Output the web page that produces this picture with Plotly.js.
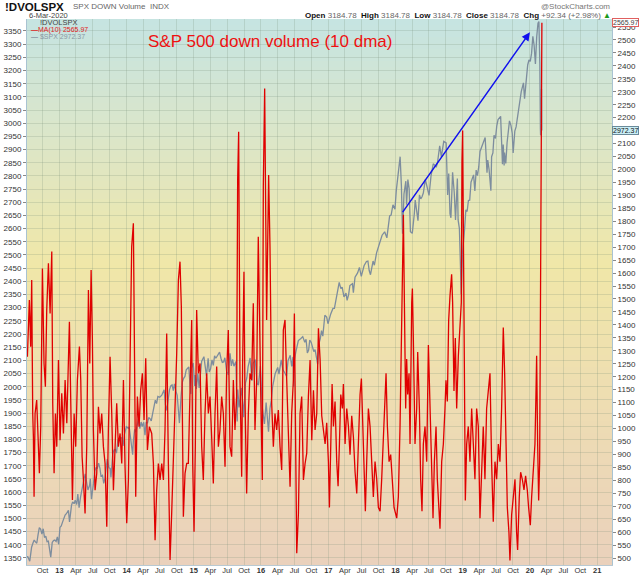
<!DOCTYPE html>
<html>
<head>
<meta charset="utf-8">
<script src="https://cdn.plot.ly/plotly-3.0.1.min.js"></script>
<style>
html,body{margin:0;padding:0;background:#fff;}
#chart{width:640px;height:576px;}
</style>
</head>
<body>
<div id="chart"></div>
<script>
// ---------------- DATA ----------------
const spxDates = [
'2012-07-09','2012-07-13','2012-07-24','2012-08-03','2012-08-10','2012-08-17','2012-08-24','2012-08-31','2012-09-07','2012-09-14','2012-09-21','2012-09-28','2012-10-05','2012-10-12','2012-10-19','2012-10-26','2012-11-02','2012-11-09','2012-11-15','2012-11-23','2012-11-30','2012-12-07','2012-12-14','2012-12-21','2012-12-28',
'2013-01-04','2013-01-11','2013-01-18','2013-01-25','2013-02-01','2013-02-08','2013-02-19','2013-02-25','2013-03-01','2013-03-08','2013-03-14','2013-03-22','2013-03-28','2013-04-05','2013-04-11','2013-04-18','2013-04-26','2013-05-03','2013-05-10','2013-05-21','2013-05-31','2013-06-05','2013-06-14','2013-06-18','2013-06-24','2013-06-28','2013-07-05','2013-07-12','2013-07-19','2013-07-26','2013-08-02','2013-08-09','2013-08-15','2013-08-23','2013-08-30','2013-09-06','2013-09-13','2013-09-18','2013-09-27','2013-10-04','2013-10-08','2013-10-18','2013-10-25','2013-11-01','2013-11-07','2013-11-15','2013-11-27','2013-12-06','2013-12-13','2013-12-20','2013-12-31',
'2014-01-10','2014-01-15','2014-01-24','2014-02-03','2014-02-07','2014-02-14','2014-02-20','2014-03-07','2014-03-14','2014-03-21','2014-03-27','2014-04-04','2014-04-11','2014-04-17','2014-04-25','2014-05-01','2014-05-09','2014-05-15','2014-05-23','2014-06-06','2014-06-13','2014-06-20','2014-06-30','2014-07-11','2014-07-24','2014-07-31','2014-08-07','2014-08-15','2014-08-22','2014-08-29','2014-09-05','2014-09-12','2014-09-18','2014-09-26','2014-10-03','2014-10-10','2014-10-15','2014-10-24','2014-10-31','2014-11-07','2014-11-14','2014-11-21','2014-12-05','2014-12-12','2014-12-16','2014-12-19','2014-12-29',
'2015-01-06','2015-01-09','2015-01-15','2015-01-23','2015-01-30','2015-02-06','2015-02-13','2015-02-25','2015-03-06','2015-03-11','2015-03-20','2015-03-26','2015-04-02','2015-04-10','2015-04-17','2015-04-24','2015-05-01','2015-05-08','2015-05-21','2015-05-29','2015-06-05','2015-06-12','2015-06-19','2015-06-29','2015-07-08','2015-07-17','2015-07-24','2015-07-31','2015-08-07','2015-08-18','2015-08-21','2015-08-25','2015-08-28','2015-09-04','2015-09-11','2015-09-16','2015-09-25','2015-09-29','2015-10-09','2015-10-16','2015-10-23','2015-11-03','2015-11-13','2015-11-20','2015-12-01','2015-12-11','2015-12-18','2015-12-29',
'2016-01-08','2016-01-15','2016-01-20','2016-01-29','2016-02-05','2016-02-11','2016-02-19','2016-02-26','2016-03-04','2016-03-11','2016-03-18','2016-04-01','2016-04-08','2016-04-20','2016-04-29','2016-05-06','2016-05-19','2016-05-27','2016-06-08','2016-06-16','2016-06-23','2016-06-27','2016-07-01','2016-07-08','2016-07-15','2016-07-22','2016-08-05','2016-08-15','2016-08-26','2016-09-02','2016-09-09','2016-09-16','2016-09-22','2016-09-30','2016-10-14','2016-10-21','2016-11-04','2016-11-11','2016-11-18','2016-11-25','2016-12-02','2016-12-13','2016-12-23','2016-12-30',
'2017-01-13','2017-01-26','2017-02-03','2017-02-17','2017-03-01','2017-03-10','2017-03-17','2017-03-27','2017-04-07','2017-04-13','2017-04-21','2017-04-28','2017-05-12','2017-05-17','2017-05-26','2017-06-09','2017-06-19','2017-06-29','2017-07-14','2017-07-27','2017-08-04','2017-08-11','2017-08-18','2017-09-01','2017-09-08','2017-09-20','2017-10-06','2017-10-20','2017-11-03','2017-11-15','2017-11-30','2017-12-08','2017-12-18','2017-12-29',
'2018-01-05','2018-01-12','2018-01-19','2018-01-26','2018-02-02','2018-02-05','2018-02-08','2018-02-16','2018-02-26','2018-03-02','2018-03-09','2018-03-16','2018-03-23','2018-04-02','2018-04-06','2018-04-13','2018-04-18','2018-04-27','2018-05-03','2018-05-11','2018-05-18','2018-05-25','2018-06-01','2018-06-12','2018-06-22','2018-07-02','2018-07-13','2018-07-25','2018-08-03','2018-08-10','2018-08-17','2018-08-29','2018-09-07','2018-09-20','2018-10-03','2018-10-11','2018-10-17','2018-10-24','2018-10-29','2018-11-07','2018-11-16','2018-11-23','2018-12-03','2018-12-07','2018-12-14','2018-12-21','2018-12-24','2018-12-31',
'2019-01-04','2019-01-11','2019-01-18','2019-01-25','2019-02-01','2019-02-08','2019-02-15','2019-02-22','2019-03-01','2019-03-08','2019-03-15','2019-03-22','2019-03-29','2019-04-05','2019-04-12','2019-04-23','2019-04-30','2019-05-03','2019-05-13','2019-05-17','2019-05-24','2019-06-03','2019-06-07','2019-06-14','2019-06-20','2019-06-28','2019-07-05','2019-07-12','2019-07-26','2019-08-05','2019-08-09','2019-08-14','2019-08-16','2019-08-23','2019-08-30','2019-09-06','2019-09-12','2019-09-20','2019-09-27','2019-10-02','2019-10-11','2019-10-18','2019-10-28','2019-11-08','2019-11-15','2019-11-27','2019-12-03','2019-12-13','2019-12-20','2019-12-27',
'2020-01-03','2020-01-10','2020-01-17','2020-01-24','2020-01-31','2020-02-07','2020-02-14','2020-02-19','2020-02-24','2020-02-27','2020-02-28','2020-03-03','2020-03-04','2020-03-05','2020-03-06'
];
const spxValues = [
1352,1356,1338,1391,1406,1418,1411,1406,1438,1465,1460,1441,1461,1428,1433,1412,1414,1380,1353,1409,1416,1418,1413,1430,1402,
1466,1472,1486,1503,1513,1518,1531,1487,1518,1551,1563,1556,1569,1553,1593,1541,1582,1614,1633,1669,1631,1608,1626,1651,1573,1606,1632,1680,1692,1691,1710,1691,1661,1664,1633,1655,1688,1725,1692,1690,1656,1745,1760,1762,1748,1798,1807,1805,1775,1818,1848,
1842,1848,1790,1742,1797,1838,1828,1878,1841,1866,1849,1865,1816,1864,1863,1883,1878,1870,1900,1949,1936,1963,1960,1968,1988,1931,1910,1955,1988,2003,2007,1985,2011,1983,1967,1906,1862,1964,2018,2032,2039,2064,2075,2002,1972,2070,2090,
2003,2044,1992,2051,1995,2055,2097,2114,2071,2040,2108,2056,2067,2102,2081,2117,2108,2116,2131,2107,2092,2094,2110,2057,2046,2127,2079,2104,2078,2096,1971,1868,1989,1921,1961,1996,1932,1884,2015,2033,2075,2109,2023,2089,2103,2012,2006,2078,
1922,1880,1859,1940,1880,1829,1918,1948,1999,2022,2049,2073,2048,2102,2065,2057,2040,2099,2119,2077,2113,2000,2103,2130,2161,2175,2183,2190,2169,2180,2128,2139,2177,2168,2133,2141,2085,2164,2182,2213,2192,2271,2264,2239,
2274,2297,2297,2351,2396,2372,2378,2341,2355,2328,2349,2384,2391,2357,2416,2432,2453,2419,2459,2475,2477,2441,2425,2477,2461,2508,2549,2575,2588,2565,2648,2651,2690,2674,
2743,2786,2810,2873,2762,2649,2581,2732,2780,2691,2786,2752,2588,2582,2604,2656,2708,2670,2630,2728,2713,2721,2735,2787,2755,2726,2801,2846,2840,2833,2850,2914,2872,2931,2925,2728,2809,2656,2641,2814,2736,2633,2790,2633,2600,2417,2351,2507,
2532,2596,2671,2665,2707,2708,2776,2793,2804,2743,2822,2801,2834,2893,2907,2934,2946,2946,2812,2860,2826,2744,2873,2887,2954,2942,2990,3014,3026,2844,2919,2840,2889,2847,2926,2979,3009,2992,2962,2887,2970,2986,3039,3093,3120,3153,3093,3169,3221,3240,
3235,3265,3330,3295,3225,3328,3380,3386,3226,2979,2954,3003,3130,3023,2972.37
];

// Down volume, 10-day MA; time in decimal years
const volTimes = [
2012.525,2012.554,2012.574,2012.589,2012.604,2012.614,2012.624,2012.639,2012.663,2012.688,2012.703,2012.723,2012.748,2012.772,2012.792,2012.812,2012.837,2012.862,2012.887,2012.901,2012.921,2012.941,2012.961,2012.986,
2013.010,2013.035,2013.060,2013.085,2013.110,2013.149,2013.169,2013.194,2013.219,2013.243,2013.268,2013.298,2013.318,2013.338,2013.358,2013.382,2013.407,2013.432,2013.452,2013.472,2013.491,2013.506,2013.531,2013.556,2013.581,2013.605,2013.630,2013.655,2013.680,2013.705,2013.729,2013.754,2013.779,2013.804,2013.829,2013.853,2013.878,2013.903,2013.928,2013.953,2013.977,
2014.002,2014.027,2014.052,2014.076,2014.101,2014.116,2014.136,2014.161,2014.186,2014.210,2014.235,2014.260,2014.285,2014.310,2014.339,2014.374,2014.399,2014.424,2014.448,2014.473,2014.498,2014.523,2014.548,2014.572,2014.597,2014.622,2014.647,2014.671,2014.696,2014.721,2014.746,2014.771,2014.795,2014.815,2014.830,2014.845,2014.870,2014.895,2014.919,2014.944,2014.969,2014.984,
2015.004,2015.023,2015.043,2015.068,2015.093,2015.118,2015.142,2015.167,2015.192,2015.217,2015.242,2015.266,2015.291,2015.316,2015.341,2015.366,2015.390,2015.415,2015.440,2015.465,2015.489,2015.514,2015.539,2015.564,2015.589,2015.613,2015.638,2015.653,2015.668,2015.688,2015.713,2015.727,2015.747,2015.762,2015.787,2015.812,2015.837,2015.861,2015.886,2015.911,2015.936,2015.960,2015.975,2015.995,
2016.020,2016.035,2016.055,2016.070,2016.084,2016.099,2016.114,2016.134,2016.159,2016.184,2016.208,2016.233,2016.258,2016.283,2016.308,2016.332,2016.357,2016.382,2016.407,2016.432,2016.456,2016.481,2016.496,2016.511,2016.531,2016.556,2016.580,2016.605,2016.630,2016.655,2016.679,2016.704,2016.729,2016.754,2016.779,2016.803,2016.828,2016.853,2016.878,2016.902,2016.927,2016.952,2016.976,
2017.001,2017.016,2017.036,2017.056,2017.076,2017.100,2017.125,2017.145,2017.165,2017.185,2017.209,2017.224,2017.249,2017.274,2017.299,2017.323,2017.348,2017.373,2017.398,2017.423,2017.447,2017.472,2017.492,2017.512,2017.532,2017.551,2017.571,2017.596,2017.621,2017.646,2017.670,2017.695,2017.720,2017.745,2017.770,2017.794,2017.819,2017.844,2017.859,2017.879,2017.904,2017.928,2017.953,2017.978,
2018.018,2018.042,2018.067,2018.087,2018.102,2018.117,2018.132,2018.151,2018.166,2018.181,2018.201,2018.216,2018.241,2018.251,2018.265,2018.290,2018.315,2018.330,2018.355,2018.374,2018.394,2018.414,2018.439,2018.464,2018.489,2018.513,2018.538,2018.558,2018.578,2018.603,2018.622,2018.642,2018.662,2018.687,2018.712,2018.736,2018.751,2018.771,2018.791,2018.811,2018.835,2018.850,2018.870,2018.890,2018.910,2018.935,2018.960,2018.979,2018.989,2018.999,
2019.014,2019.029,2019.039,2019.059,2019.083,2019.108,2019.133,2019.158,2019.182,2019.207,2019.232,2019.257,2019.282,2019.306,2019.331,2019.356,2019.381,2019.406,2019.430,2019.455,2019.480,2019.505,2019.530,2019.554,2019.579,2019.604,2019.624,2019.644,2019.664,2019.688,2019.703,2019.728,2019.753,2019.778,2019.802,2019.817,2019.842,2019.862,2019.887,2019.912,2019.936,2019.961,2019.981,
2020.006,2020.026,2020.050,2020.075,2020.090,2020.100,2020.115,2020.130,2020.145,2020.160,2020.169,2020.178
];
const volValues = [
1277,1496,1316,1573,1058,968,737,1058,1110,930,827,1007,1618,1251,1161,1457,1638,1444,1683,1097,827,1058,930,1264,
955,1136,981,1187,1020,1412,1058,724,1058,930,1187,1316,1187,891,801,672,930,1535,1251,1612,1342,994,762,827,1084,981,1058,930,865,621,994,1277,1058,762,930,1097,930,981,865,1187,852,
634,801,1187,1702,1792,1316,737,1123,1007,1148,1213,1033,1271,917,1007,981,865,569,762,865,801,865,801,994,1367,865,492,672,865,1123,1290,1573,1644,1470,1058,659,827,865,865,1187,1419,865,
601,930,1457,1213,1251,930,801,1058,1213,1058,1123,968,788,1058,1239,930,994,1123,1058,852,1213,1380,930,891,1187,994,1123,1959,2146,1187,814,1251,1605,1123,749,1058,1213,1187,1483,994,1187,1740,1380,1161,
801,1934,2313,1882,1419,1702,1979,1702,1097,930,1058,994,1071,930,840,1380,1419,1187,955,775,1058,1187,1444,994,518,672,1058,1123,801,865,904,1123,1264,955,1148,994,1058,1387,1264,1049,995,940,1022,
872,695,967,1172,1008,1104,872,777,940,1131,1077,1172,940,1077,1008,899,1049,967,831,749,940,1131,1193,1008,804,681,872,1077,1008,872,736,872,804,695,681,804,940,1104,1213,1008,872,899,804,695,
654,736,1008,1349,1622,1825,1486,1077,1268,1131,1213,940,1486,1540,1349,940,1077,1295,1077,804,681,940,1008,872,1322,1077,804,654,872,1008,804,708,613,872,940,1077,1186,1104,1418,1513,1595,1486,1145,1349,1077,1281,1418,1486,2031,2150,
1622,940,722,940,1008,872,1077,940,804,1077,1008,654,872,1008,804,1077,1145,1213,872,640,872,804,940,872,1077,1390,1213,1008,695,599,490,667,736,804,599,531,736,831,804,763,817,763,695,
627,736,831,940,1131,1281,940,722,872,1486,2304,2565.97
];

const tickVals = [
'2012-10-01','2013-01-01','2013-04-01','2013-07-01','2013-10-01','2014-01-01','2014-04-01','2014-07-01','2014-10-01',
'2015-01-01','2015-04-01','2015-07-01','2015-10-01','2016-01-01','2016-04-01','2016-07-01','2016-10-01',
'2017-01-01','2017-04-01','2017-07-01','2017-10-01','2018-01-01','2018-04-01','2018-07-01','2018-10-01',
'2019-01-01','2019-04-01','2019-07-01','2019-10-01','2020-01-01','2020-04-01','2020-07-01','2020-10-01','2021-01-01'
];
const tickText = [
'Oct','<b>13</b>','Apr','Jul','Oct','<b>14</b>','Apr','Jul','Oct',
'<b>15</b>','Apr','Jul','Oct','<b>16</b>','Apr','Jul','Oct',
'<b>17</b>','Apr','Jul','Oct','<b>18</b>','Apr','Jul','Oct',
'<b>19</b>','Apr','Jul','Oct','<b>20</b>','Apr','Jul','Oct','<b>21</b>'
];

const arrowFrom = {date:'2018-02-03', spx:2657};
const arrowTo = {date:'2020-01-01', spx:3345};

// ---------------- HELPERS ----------------
function decToDate(t){
  const y = Math.floor(t);
  const s = Date.UTC(y,0,1), e = Date.UTC(y+1,0,1);
  return new Date(s + (t-y)*(e-s)).toISOString().slice(0,19).replace('T',' ');
}
const M = {l:27, r:28, t:19, b:11};
const W = 640, H = 576;
const PW = W - M.l - M.r, PH = H - M.t - M.b;
function px(x){ return (x - M.l)/PW; }
function py(y){ return (H - M.b - y)/PH; }

// gradient background stripes
function lerp(a,b,f){ return a + (b-a)*f; }
const stops = [
  [0.00,[197,228,226]],
  [0.22,[220,230,200]],
  [0.45,[240,231,168]],
  [0.70,[238,221,178]],
  [1.00,[234,209,188]]
];
function colAt(f){
  for(let i=0;i<stops.length-1;i++){
    const a=stops[i], b=stops[i+1];
    if(f>=a[0] && f<=b[0]){
      const k=(f-a[0])/(b[0]-a[0]);
      return 'rgb('+Math.round(lerp(a[1][0],b[1][0],k))+','+Math.round(lerp(a[1][1],b[1][1],k))+','+Math.round(lerp(a[1][2],b[1][2],k))+')';
    }
  }
  return 'rgb(234,209,188)';
}
const shapes = [];
const N = 91;
for(let i=0;i<N;i++){
  const top = 1 - i/N, bot = 1 - (i+1)/N;
  shapes.push({type:'rect', xref:'paper', yref:'paper', x0:0, x1:1, y0:Math.max(0,bot-0.002), y1:top,
    fillcolor:colAt((i+0.5)/N), line:{width:0}, layer:'below'});
}

// ---------------- TRACES ----------------
const volDates = volTimes.map(decToDate);
const lastVol = volValues[volValues.length-1];
const lastSpx = spxValues[spxValues.length-1];

const traces = [
  {x:spxDates, y:spxValues, type:'scatter', mode:'lines', yaxis:'y',
   line:{color:'#7d8d9e', width:1.3}, hoverinfo:'skip', name:'$SPX'},
  {x:volDates, y:volValues, type:'scatter', mode:'lines', yaxis:'y2',
   line:{color:'#e00000', width:1.3}, hoverinfo:'skip', name:'MA(10)'}
];

const F = 'Liberation Sans, Arial, sans-serif';
const gridC = 'rgba(120,140,120,0.22)';

const annotations = [
  {xref:'paper', yref:'paper', x:px(3), y:py(7), xanchor:'left', yanchor:'middle', showarrow:false,
   text:'<b>!DVOLSPX</b>', font:{family:F, size:11.5, color:'#111'}},
  {xref:'paper', yref:'paper', x:px(71), y:py(6.5), xanchor:'left', yanchor:'middle', showarrow:false,
   text:'SPX DOWN Volume  INDX', font:{family:F, size:8, color:'#666'}},
  {xref:'paper', yref:'paper', x:px(27), y:py(15.5), xanchor:'left', yanchor:'middle', showarrow:false,
   text:'6-Mar-2020', font:{family:F, size:7.5, color:'#444'}},
  {xref:'paper', yref:'paper', x:px(612), y:py(6), xanchor:'right', yanchor:'middle', showarrow:false,
   text:'@StockCharts.com', font:{family:F, size:8, color:'#777'}},
  {xref:'paper', yref:'paper', x:px(613), y:py(15), xanchor:'right', yanchor:'middle', showarrow:false,
   text:'<b>Open</b> <span style="color:#666">3184.78</span>  <b>High</b> <span style="color:#666">3184.78</span>  <b>Low</b> <span style="color:#666">3184.78</span>  <b>Close</b> <span style="color:#666">3184.78</span>  <b>Chg</b> <span style="color:#666">+92.34 (+2.98%)</span> <span style="color:#1a9a1a">▲</span>',
   font:{family:F, size:8, color:'#111'}},
  // legend in plot
  {xref:'paper', yref:'paper', x:px(38), y:py(23), xanchor:'left', yanchor:'middle', showarrow:false,
   text:'!DVOLSPX', font:{family:F, size:7.5, color:'#444'}},
  {xref:'paper', yref:'paper', x:px(29), y:py(29.5), xanchor:'left', yanchor:'middle', showarrow:false,
   text:'<b>—</b>MA(10) '+lastVol.toFixed(2), font:{family:F, size:7, color:'#e02020'}},
  {xref:'paper', yref:'paper', x:px(29), y:py(36), xanchor:'left', yanchor:'middle', showarrow:false,
   text:'<b>—</b> $SPX '+lastSpx.toFixed(2), font:{family:F, size:7, color:'#8a96a2'}},
  // title
  {xref:'paper', yref:'paper', x:px(270), y:py(42), xanchor:'center', yanchor:'middle', showarrow:false,
   text:'S&P 500 down volume (10 dma)', font:{family:F, size:17, color:'#ee1111'}},
  // arrow
  {x:arrowTo.date, y:arrowTo.spx, xref:'x', yref:'y', ax:arrowFrom.date, ay:arrowFrom.spx, axref:'x', ayref:'y',
   showarrow:true, arrowhead:2, arrowsize:1.1, arrowwidth:1.5, arrowcolor:'#1010ee', text:''},
  // value boxes
  {xref:'paper', x:1.0, yref:'y2', y:lastVol, xanchor:'left', yanchor:'middle', showarrow:false,
   text:lastVol.toFixed(2), font:{family:F, size:7, color:'#444'}, bgcolor:'#ffffff', bordercolor:'#e06060', borderwidth:1, borderpad:0},
  {xref:'paper', x:1.0, yref:'y', y:lastSpx, xanchor:'left', yanchor:'middle', showarrow:false,
   text:lastSpx.toFixed(2), font:{family:F, size:7, color:'#111'}, bgcolor:'#c9eef6', bordercolor:'#6a8a9a', borderwidth:1, borderpad:0}
];

const layout = {
  width:W, height:H,
  margin:M,
  paper_bgcolor:'#ffffff',
  plot_bgcolor:'rgba(0,0,0,0)',
  showlegend:false,
  font:{family:F, size:8, color:'#333'},
  xaxis:{type:'date', range:['2012-07-09','2021-03-22'], tickvals:tickVals, ticktext:tickText,
    showgrid:true, gridcolor:gridC, gridwidth:1, ticks:'', tickfont:{family:F, size:7.5, color:'#333'},
    ticklabelstandoff:-2,
    showline:true, linecolor:'#b9c9d2', zeroline:false, fixedrange:true},
  yaxis:{range:[1323.4, 3395.5], dtick:50, tick0:0, tickformat:'d', side:'left',
    showgrid:true, gridcolor:gridC, ticks:'outside', ticklen:3, tickcolor:'#888',
    tickfont:{family:F, size:8, color:'#333'}, showline:true, linecolor:'#a9c3d2', zeroline:false},
  yaxis2:{range:[473, 2580.9], dtick:50, tick0:0, tickformat:'d', side:'right', overlaying:'y',
    showgrid:false, ticks:'outside', ticklen:3, tickcolor:'#888',
    tickfont:{family:F, size:8, color:'#333'}, showline:true, linecolor:'#a9c3d2', zeroline:false},
  shapes:shapes,
  annotations:annotations
};

Plotly.newPlot('chart', traces, layout, {staticPlot:true, displayModeBar:false});
</script>
</body>
</html>
